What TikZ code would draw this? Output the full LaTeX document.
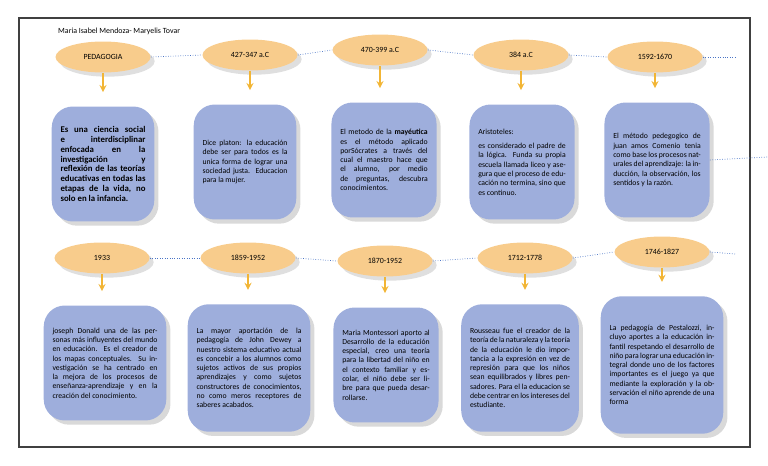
\documentclass[tikz,border=0pt]{standalone}
\usepackage{fontspec}
\setmainfont{Carlito}
\usetikzlibrary{positioning, shadows, shapes.geometric}
\definecolor{datefill}{HTML}{F8CC8C}
\definecolor{boxfill}{HTML}{9EAEDC}
\definecolor{arrowcol}{HTML}{F2B535}
\definecolor{linkcol}{HTML}{4A74C6}

\begin{document}
\begin{tikzpicture}[
    x=0.02cm, y=-0.02cm,
    date/.style={ellipse, fill=datefill, minimum width=1.9cm, minimum height=0.62cm, inner sep=0pt, font=\fontsize{4.5}{5}\selectfont, drop shadow={opacity=0.25}},
    info/.style={rounded corners=12pt, fill=boxfill, align=justify, inner sep=5pt, font=\fontsize{4.4}{5.3}\selectfont, drop shadow={opacity=0.3}},
    down/.style={->, >=stealth, draw=arrowcol, thick},
    link/.style={draw=linkcol, densely dotted, thin}
]
   % frame
   \draw[thick, black!75] (19,18) rectangle (750,447);
   \useasboundingbox (0,0) rectangle (768,466);
   \node[anchor=west, font=\fontsize{4.5}{5}\selectfont] (title) at (52,31) {Maria Isabel Mendoza- Maryelis Tovar};

   % first row dates
   \node[date] (d1) at (103,57) {PEDAGOGIA};
   \node[date] (d2) at (250,55) {427-347 a.C};
   \node[date] (d3) at (380,50) {470-399 a.C};
   \node[date] (d4) at (521,55) {384 a.C};
   \node[date] (d5) at (655,57) {1592-1670};

   % first row boxes
   \node[info, text width=1.7cm, minimum height=2.3cm, font=\fontsize{5}{5.6}\selectfont\bfseries] (b1) at (103,164) {Es una ciencia social e interdisciplinar enfocada en la investigación y reflexión de las teorías educativas en todas las etapas de la vida, no solo en la infancia.};
   \node[info, text width=1.7cm, minimum height=2.3cm] (b2) at (245,162) {Dice platon: la educación debe ser para todos es la unica forma de lograr una sociedad justa. Educacion para la mujer.};
   \node[info, text width=1.75cm, minimum height=2.3cm] (b3) at (384,160) {El metodo de la \textbf{mayéutica} es el método aplicado porSócrates a través del cual el maestro hace que el alumno, por medio de preguntas, descubra conocimientos.};
   \node[info, text width=1.75cm, minimum height=2.3cm] (b4) at (522,162) {Aristoteles:\\[3pt] es considerado el padre de la lógica. Funda su propia escuela llamada liceo y asegura que el proceso de educación no termina, sino que es continuo.};
   \node[info, text width=1.75cm, minimum height=2.3cm] (b5) at (657,160) {El método pedegogico de juan amos Comenio tenia como base los procesos naturales del aprendizaje: la inducción, la observación, los sentidos y la razón.};

   % second row dates
   \node[date] (e1) at (102,258) {1933};
   \node[date] (e2) at (248,258) {1859-1952};
   \node[date] (e3) at (385,261) {1870-1952};
   \node[date] (e4) at (525,258) {1712-1778};
   \node[date] (e5) at (662,252) {1746-1827};

   % second row boxes
   \node[info, text width=2.1cm, minimum height=2.3cm] (c1) at (105,363) {joseph Donald una de las personas más influyentes del mundo en educación. Es el creador de los mapas conceptuales. Su investigación se ha centrado en la mejora de los procesos de enseñanza-aprendizaje y en la creación del conocimiento.};
   \node[info, text width=2.1cm, minimum height=2.55cm] (c2) at (249,368) {La mayor aportación de la pedagogía de John Dewey a nuestro sistema educativo actual es concebir a los alumnos como sujetos activos de sus propios aprendizajes y como sujetos constructores de conocimientos, no como meros receptores de saberes acabados.};
   \node[info, text width=1.75cm, minimum height=2.3cm] (c3) at (386,365) {Maria Montessori aporto al Desarrollo de la educación especial, creo una teoría para la libertad del niño en el contexto familiar y escolar, el niño debe ser libre para que pueda desarrollarse.};
   \node[info, text width=2cm, minimum height=2.55cm] (c4) at (520,368) {Rousseau fue el creador de la teoría de la naturaleza y la teoría de la educación le dio importancia a la expresión en vez de represión para que los niños sean equilibrados y libres pensadores. Para el la educacion se debe centrar en los intereses del estudiante.};
   \node[info, text width=2.1cm, minimum height=2.75cm] (c5) at (662,365) {La pedagogía de Pestalozzi, incluyo aportes a la educación infantil respetando el desarrollo de niño para lograr una educación integral donde uno de los factores importantes es el juego ya que mediante la exploración y la observación el niño aprende de una forma};

   % arrows
   \foreach \d/\b in {d1/b1, d2/b2, d3/b3, d4/b4, d5/b5, e1/c1, e2/c2, e3/c3, e4/c4, e5/c5}
      \draw[down] (\d.south) -- ([yshift=8pt]\d.south |- \b.north);

   % dotted links
   \foreach \a/\c in {d1/d2, d2/d3, d3/d4, d4/d5, e1/e2, e2/e3, e3/e4, e4/e5}
      \draw[link] (\a.east) -- (\c.west);
   \coordinate (r1) at (735,57);
   \coordinate (r2) at (735,254);
   \coordinate (r3) at (768,157);
   \draw[link] (d5.east) -- (r1);
   \draw[link] (e5.east) -- (r2);
   \draw[link] (b5.east) -- (r3);
\end{tikzpicture}
\end{document}
